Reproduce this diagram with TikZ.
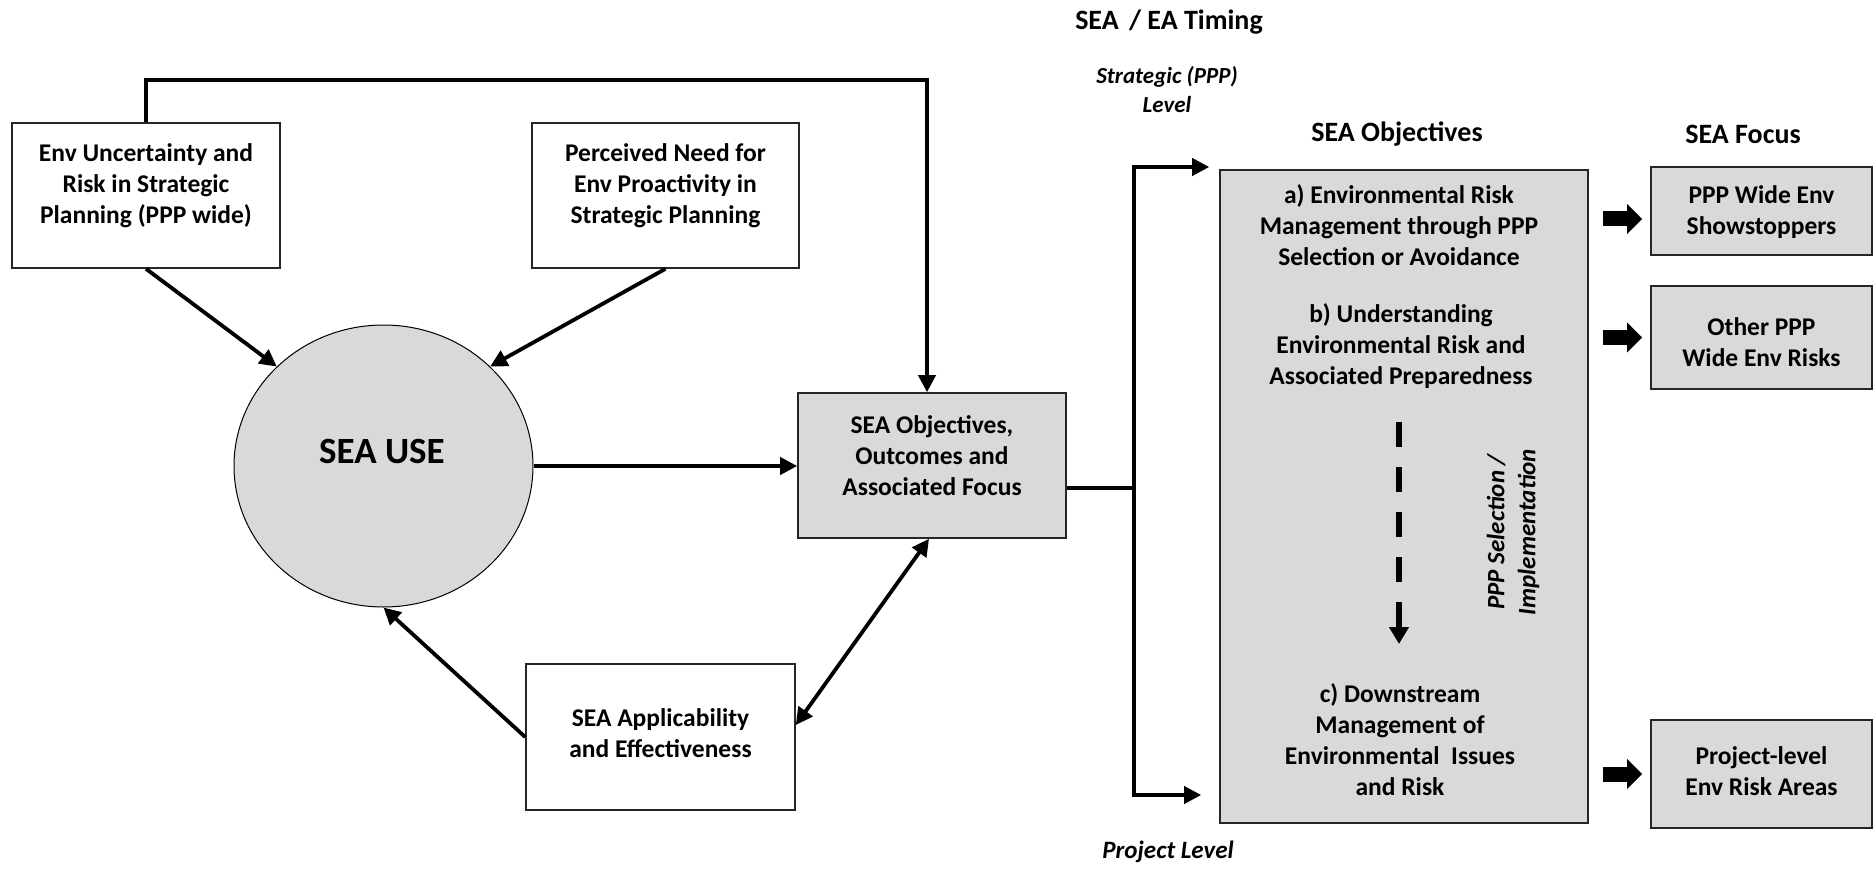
\documentclass[tikz,border=0pt]{standalone}
\usepackage{fontspec}
\setmainfont{Carlito}
\usetikzlibrary{arrows.meta,calc,shapes.geometric}
\definecolor{boxgray}{HTML}{D9D9D9}
\begin{document}
\begin{tikzpicture}[x=1pt,y=-1pt,
  font=\bfseries\fontsize{25.5}{31}\selectfont,
  box/.style={draw=black!85, line width=1.6pt, inner sep=0pt},
  graybox/.style={box, fill=boxgray},
  txt/.style={align=center, inner sep=0pt},
  head/.style={inner sep=0pt, font=\bfseries\fontsize{28}{31}\selectfont},
  level/.style={align=center, inner sep=0pt, font=\bfseries\itshape\fontsize{23}{29}\selectfont},
  flow/.style={line width=3.8pt, -{Triangle[length=17pt,width=17pt]}},
  twoway/.style={line width=3.8pt, {Triangle[length=17pt,width=17pt]}-{Triangle[length=17pt,width=17pt]}},
  fat/.style={line width=15pt, -{Triangle[length=15pt,width=29pt]}, shorten <=14pt, shorten >=8pt},
]
\useasboundingbox (0,0) rectangle (1875,869);

% left-hand loop
\node[box, minimum width=268pt, minimum height=145pt] (A) at (146,195.5) {};
\node[txt] (Atxt) at ([yshift=10pt]A.center) {Env Uncertainty and\\Risk in Strategic\\Planning (PPP wide)};
\node[box, minimum width=267pt, minimum height=145pt] (B) at (665.5,195.5) {};
\node[txt] (Btxt) at ([yshift=10pt]B.center) {Perceived Need for\\Env Proactivity in\\Strategic Planning};
\node[ellipse, draw=black, line width=1pt, fill=boxgray, minimum width=299pt, minimum height=282pt, inner sep=0pt] (use) at (383.5,466) {};
\node[inner sep=0pt, font=\bfseries\fontsize{37}{40}\selectfont] (usetxt) at (382,452) {SEA USE};
\node[graybox, minimum width=268pt, minimum height=145pt] (C) at (932,465.5) {};
\node[txt] (Ctxt) at ([yshift=9.5pt]C.center) {SEA Objectives,\\Outcomes and\\Associated Focus};
\node[box, minimum width=269pt, minimum height=146pt] (D) at (660.5,737) {};
\node[txt] (Dtxt) at ([yshift=4pt]D.center) {SEA Applicability\\and Effectiveness};

\draw[flow] (A.south) -- (use.137);
\draw[flow] (B.south) -- (use.43.5);
\draw[flow] (use.east) -- (use.east -| C.west);
\draw[flow] (D.west) -- (use.south);
\draw[twoway] ([yshift=12pt]D.east) -- ([xshift=-3pt]C.south);
\draw[flow, line join=miter] (A.north) -- ++(0,-42) -| ([xshift=-5pt]C.north);

% timing bracket
\node[head] (timing) at (1169,22) {SEA\hspace{4pt} / EA Timing};
\node[level] (strat) at (1167,90) {Strategic (PPP)\\Level};
\node[level, font=\bfseries\itshape\fontsize{25}{29}\selectfont] (proj) at (1168,852) {Project Level};

\node[graybox, minimum width=368pt, minimum height=653pt] (big) at (1404,496.5) {};
\node[head] (objhead) at (1397,134) {SEA Objectives};
\node[txt] (obja) at (1399,225) {a) Environmental Risk\\Management through PPP\\Selection or Avoidance};
\node[txt] (objb) at (1401,346) {b) Understanding\\Environmental Risk and\\Associated Preparedness};
\node[txt] (objc) at (1400,740) {c) Downstream\\Management of\\Environmental\ \ Issues\\and Risk};

\coordinate (jn) at (1134,488);
\coordinate (jt) at (1134,167);
\coordinate (jb) at (1134,795);
\draw[line width=3.8pt] (C.east |- jn) -- (jn);
\draw[flow, shorten >=10pt, line join=miter] (jn) |- (jt -| big.west);
\draw[flow, shorten >=18pt, line join=miter] (jn) |- (jb -| big.west);

% selection / implementation sequence
\coordinate (ds) at (1399,422);
\coordinate (de) at (1399,644);
\draw[line width=6pt, dash pattern=on 25pt off 20pt, -{Triangle[length=17pt,width=19pt]}] (ds) -- (de);
\node[level, rotate=90, font=\bfseries\itshape\fontsize{25}{31}\selectfont] (seltxt) at (1513,532) {PPP Selection /\\Implementation};

% focus column
\node[head] (fochead) at (1743,134) {SEA Focus};
\node[graybox, minimum width=221pt, minimum height=88pt] (f1) at (1761.5,211) {};
\node[txt] (f1txt) at ([yshift=-1pt]f1.center) {PPP Wide Env\\Showstoppers};
\node[graybox, minimum width=221pt, minimum height=103pt] (f2) at (1761.5,337.5) {};
\node[txt] (f2txt) at ([yshift=-4.5pt]f2.center) {Other PPP\\Wide Env Risks};
\node[graybox, minimum width=221pt, minimum height=108pt] (f3) at (1761.5,774) {};
\node[txt] (f3txt) at ([yshift=3pt]f3.center) {Project-level\\Env Risk Areas};

\draw[fat] ([yshift=-8pt]big.east |- f1.west) -- ([yshift=-8pt]f1.west);
\draw[fat] (big.east |- f2.west) -- (f2.west);
\draw[fat] (big.east |- f3.west) -- (f3.west);
\end{tikzpicture}
\end{document}
